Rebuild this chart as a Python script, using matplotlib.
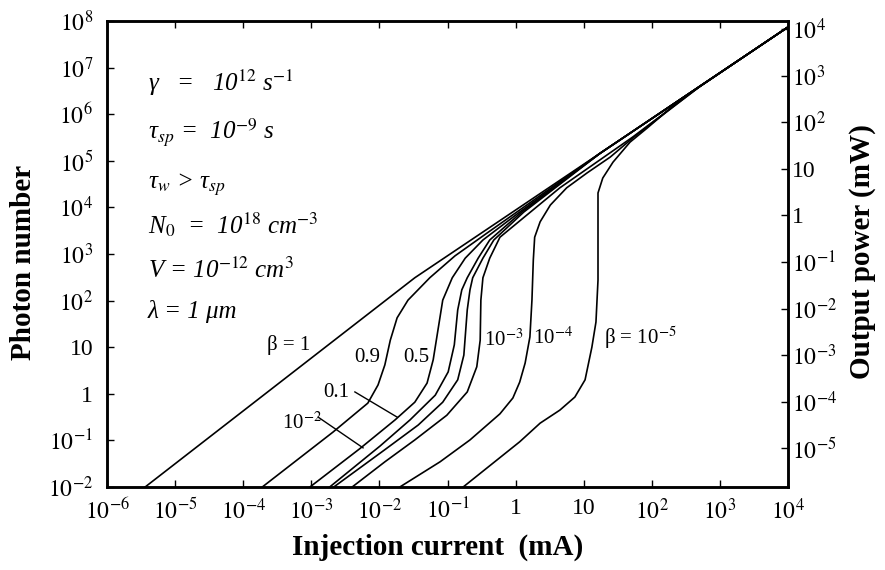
import numpy as np
import matplotlib.pyplot as plt
from matplotlib.ticker import NullLocator

plt.rcParams['font.family'] = ['Liberation Serif', 'DejaVu Serif']
plt.rcParams['mathtext.fontset'] = 'stix'

# log10(injection current / mA) and log10(photon number)
b1_x = [-5.44, -1.48, 4.0]
b1_y = [-2.00, 2.49, 7.87]

b09_x = [-3.72, -2.68, -2.17, -2.02, -1.92, -1.84, -1.74, -1.58, -1.26, -0.89, -0.38, 1.24, 4.0]
b09_y = [-2.00, -0.82, -0.20, 0.19, 0.62, 1.15, 1.63, 2.01, 2.49, 2.96, 3.49, 5.16, 7.87]

b05_x = [-3.02, -2.29, -1.77, -1.48, -1.30, -1.21, -1.14, -1.07, -0.93, -0.74, -0.48, 0.06, 1.24, 4.0]
b05_y = [-2.00, -1.18, -0.56, -0.18, 0.23, 0.73, 1.37, 2.01, 2.49, 2.91, 3.30, 3.90, 5.16, 7.87]

b01_x = [-2.73, -1.99, -1.55, -1.18, -0.99, -0.90, -0.85, -0.79, -0.71, -0.55, -0.38, 0.09, 1.24, 4.0]
b01_y = [-2.00, -1.12, -0.56, -0.03, 0.47, 1.05, 1.80, 2.23, 2.49, 2.91, 3.30, 3.90, 5.16, 7.87]

b1e2_x = [-2.67, -1.93, -1.43, -1.07, -0.85, -0.76, -0.71, -0.67, -0.63, -0.48, -0.32, 0.12, 1.24, 4.0]
b1e2_y = [-2.00, -1.21, -0.67, -0.18, 0.30, 0.83, 1.80, 2.23, 2.49, 2.91, 3.30, 3.90, 5.16, 7.87]

b1e3_x = [-2.40, -1.92, -1.48, -1.01, -0.71, -0.57, -0.52, -0.51, -0.48, -0.38, -0.23, 0.65, 1.72, 2.71, 4.0]
b1e3_y = [-2.00, -1.46, -0.99, -0.46, 0.04, 0.58, 1.15, 2.01, 2.49, 2.91, 3.36, 4.42, 5.51, 6.60, 7.87]

b1e4_x = [-1.70, -1.11, -0.67, -0.23, -0.04, 0.06, 0.14, 0.21, 0.24, 0.26, 0.28, 0.36, 0.51, 0.75, 1.05, 1.39, 1.72, 2.71, 4.0]
b1e4_y = [-2.00, -1.46, -0.99, -0.43, -0.09, 0.25, 0.66, 1.22, 2.01, 2.87, 3.36, 3.69, 4.05, 4.42, 4.74, 5.08, 5.49, 6.60, 7.87]

b1e5_x = [-0.77, 0.06, 0.36, 0.65, 0.87, 1.02, 1.12, 1.18, 1.21, 1.21, 1.28, 1.43, 1.68, 1.93, 2.41, 4.0]
b1e5_y = [-2.00, -1.03, -0.63, -0.35, -0.07, 0.30, 1.00, 1.54, 2.44, 4.31, 4.63, 4.97, 5.40, 5.70, 6.30, 7.87]

# leader lines for the 0.1 and 10^-2 labels
lead01_x = [-2.36, -1.74]
lead01_y = [0.04, -0.50]
lead1e2_x = [-2.90, -2.24]
lead1e2_y = [-0.50, -1.16]

curve_labels = ['β = 1', '0.9', '0.5', '0.1', '10$^{-2}$', '10$^{-3}$', '10$^{-4}$', 'β = 10$^{-5}$']
label_x = [-3.34, -2.18, -1.46, -2.64, -3.14, -0.18, 0.55, 1.83]
label_y = [1.05, 0.77, 0.77, 0.02, -0.63, 1.15, 1.20, 1.20]

params = ['γ   =   10$^{12}$ s$^{-1}$',
          'τ$_{sp}$ =  10$^{-9}$ s',
          'τ$_{w}$ > τ$_{sp}$',
          'N$_{0}$  =  10$^{18}$ cm$^{-3}$',
          'V = 10$^{-12}$ cm$^{3}$',
          'λ = 1 μm']
param_y = [0.867, 0.760, 0.648, 0.562, 0.466, 0.376]

x_exp = list(range(-6, 5))
x_tick_labels = ['$10^{-6}$', '$10^{-5}$', '$10^{-4}$', '$10^{-3}$', '$10^{-2}$', '$10^{-1}$',
                 '1', '10', '$10^{2}$', '$10^{3}$', '$10^{4}$']
y_exp = list(range(-2, 9))
y_tick_labels = ['$10^{-2}$', '$10^{-1}$', '1', '10', '$10^{2}$', '$10^{3}$', '$10^{4}$',
                 '$10^{5}$', '$10^{6}$', '$10^{7}$', '$10^{8}$']
p_exp = list(range(-5, 5))
p_tick_labels = ['$10^{-5}$', '$10^{-4}$', '$10^{-3}$', '$10^{-2}$', '$10^{-1}$',
                 '1', '10', '$10^{2}$', '$10^{3}$', '$10^{4}$']
p_offset = -3.83  # log10(mW per photon) offset of the right axis

fig = plt.figure(figsize=(8.85, 5.70), dpi=100)
ax = fig.add_axes([0.1209, 0.1456, 0.7695, 0.8176])

for xs, ys in [(b1_x, b1_y), (b09_x, b09_y), (b05_x, b05_y), (b01_x, b01_y),
               (b1e2_x, b1e2_y), (b1e3_x, b1e3_y), (b1e4_x, b1e4_y), (b1e5_x, b1e5_y)]:
    ax.plot(10.0**np.array(xs), 10.0**np.array(ys), color='k', lw=1.2)

for xs, ys in [(lead01_x, lead01_y), (lead1e2_x, lead1e2_y)]:
    ax.plot(10.0**np.array(xs), 10.0**np.array(ys), color='k', lw=1.0)

for t, lx, ly in zip(curve_labels, label_x, label_y):
    ax.text(10**lx, 10**ly, t, fontsize=15, ha='center', va='center')

for t, py in zip(params, param_y):
    ax.text(0.060, py, t, transform=ax.transAxes, fontsize=18, style='italic',
            ha='left', va='center')

ax.set_xscale('log')
ax.set_yscale('log')
ax.set_xlim(1e-6, 1e4)
ax.set_ylim(1e-2, 1e8)
ax.set_xticks([10.0**e for e in x_exp])
ax.set_xticklabels(x_tick_labels)
ax.set_yticks([10.0**e for e in y_exp])
ax.set_yticklabels(y_tick_labels)
ax.xaxis.set_minor_locator(NullLocator())
ax.yaxis.set_minor_locator(NullLocator())
ax.tick_params(direction='in', top=True, length=5, width=1, labelsize=17)
ax.tick_params(axis='y', pad=10)
ax.tick_params(axis='x', pad=8)

ax2 = ax.twinx()
ax2.set_yscale('log')
ax2.set_ylim(10**(-2 + p_offset), 10**(8 + p_offset))
ax2.set_yticks([10.0**e for e in p_exp])
ax2.set_yticklabels(p_tick_labels)
ax2.yaxis.set_minor_locator(NullLocator())
ax2.tick_params(direction='in', length=5, width=1, labelsize=17, pad=3)

for a in (ax, ax2):
    for s in a.spines.values():
        s.set_linewidth(1.8)

fig.text(0.026, 0.54, 'Photon number', rotation=90, fontsize=21, fontweight='bold',
         ha='center', va='center')
fig.text(0.975, 0.558, 'Output power (mW)', rotation=90, fontsize=21, fontweight='bold',
         ha='center', va='center')
fig.text(0.495, 0.040, 'Injection current  (mA)', fontsize=21, fontweight='bold',
         ha='center', va='center')

fig.savefig('out.png', dpi=100)
